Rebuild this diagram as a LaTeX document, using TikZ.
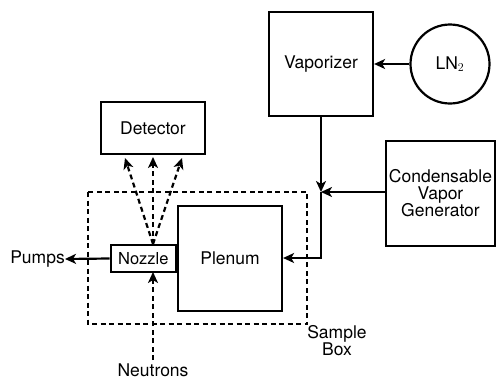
\documentclass[tikz,border=0pt]{standalone}
\usepackage{fontspec}
\setmainfont{TeX Gyre Heros}
\usetikzlibrary{arrows.meta}
\begin{document}
\begin{tikzpicture}[x=1pt,y=-1pt,
  box/.style={draw,line width=2.2pt,inner sep=0pt,font=\fontsize{17.5}{17}\selectfont},
  lbl/.style={inner sep=0pt,font=\fontsize{17.5}{17}\selectfont,align=center},
  arr/.style={line width=2.2pt,-{Stealth[length=11pt,width=10pt,inset=3pt]}},
  dsh/.style={line width=2.2pt,dash pattern=on 5pt off 3.5pt},
  darr/.style={dsh,-{Stealth[length=11pt,width=10pt,inset=3pt]}}]
\useasboundingbox (0,0) rectangle (496,381);
% boxes
\node[box,minimum width=104pt,minimum height=104pt] (vap) at (321,64) {Vaporizer};
\node[box,circle,minimum size=79pt] (ln) at (450,64) {LN$_2$};
\node[box,minimum width=104pt,minimum height=52pt] (det) at (153,128) {Detector};
\node[box,minimum width=109pt,minimum height=105pt,align=center] (cvg) at (440.5,193.5) {Condensable\\Vapor\\Generator};
\node[box,minimum width=104pt,minimum height=105pt] (plen) at (230,258.5) {Plenum};
\node[box,minimum width=65pt,minimum height=27pt,anchor=east,font=\fontsize{16.5}{17}\selectfont] (noz) at (plen.west |- 0,258.5) {Nozzle};
% sample box
\draw[dsh] (88,192) rectangle (307,324);
\node[lbl] (sb) at (337,341) {Sample\\Box};
% labels
\node[lbl,anchor=east] (pumps) at (65,259) {Pumps};
\node[lbl,anchor=south] (neu) at (153,377) {Neutrons};
% connectors
\coordinate (j) at (321,192);
\coordinate (k) at (321,258);
\draw[arr] (ln.west) -- (vap.east);
\draw[arr] (vap.south) -- (j);
\draw[arr] (cvg.west |- j) -- (j);
\draw[arr] (j) -- (k) -- (plen.east |- k);
\draw[arr] (noz.west) -- (pumps.east);
\coordinate (nt) at (153,244);
\coordinate (nb) at (153,272);
\draw[darr] (nt) -- (125,158);
\draw[darr] (nt) -- (153,157);
\draw[darr] (nt) -- (182,158);
\draw[darr] (153,360) -- (nb);
\end{tikzpicture}
\end{document}
